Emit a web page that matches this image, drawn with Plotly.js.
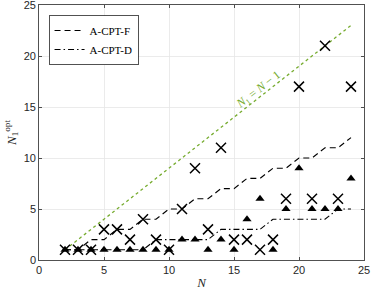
<!DOCTYPE html>
<html>
<head>
<meta charset="utf-8">
<script src="https://cdn.plot.ly/plotly-3.0.1.min.js"></script>
<style>html,body{margin:0;padding:0;background:#fff;}#chart{width:374px;height:294px;}</style>
</head>
<body>
<div id="chart"></div>
<script>
// Data
const N = [2,3,4,5,6,7,8,9,10,11,12,13,14,15,16,17,18,19,20,21,22,23,24];
const crossVals = [1,1,1,3,3,2,4,2,1,5,9,3,11,2,2,1,2,6,17,6,21,6,17];
const triVals   = [1,1,1,1,1,1,1,1,1,2,2,1,2,1,4,6,1,5,9,5,5,5,8];
const cptF = [1,1,2,2,3,3,4,4,5,5,6,6,7,7,8,8,9,9,10,10,11,11,12];
const cptD = [1,1,1,1,1,1,1,2,2,2,2,2,3,3,3,3,4,4,4,4,4,5,5];
const refX = [2,24];
const refY = [1,23];
const xTicks = [0,5,10,15,20,25];
const yTicks = [0,5,10,15,20,25];

const traces = [
  {x: refX, y: refY, mode:'lines', line:{color:'#77AC30', dash:'dot', width:1.3}, showlegend:false, hoverinfo:'skip'},
  {x: N, y: cptF, mode:'lines', name:'A-CPT-F', line:{color:'#000', dash:'6px,4px', width:1.1}},
  {x: N, y: cptD, mode:'lines', name:'A-CPT-D', line:{color:'#000', dash:'6px,3px,1.5px,3px', width:1.1}},
  {x: N, y: crossVals, mode:'markers', showlegend:false, marker:{symbol:'x-thin-open', size:10, color:'#000', line:{width:1.5, color:'#000'}}},
  {x: N, y: triVals, mode:'markers', showlegend:false, marker:{symbol:'triangle-up', size:8, color:'#000'}}
];

const axisCommon = {
  showline:true, mirror:'ticks', linecolor:'#262626', linewidth:0.8,
  ticks:'inside', ticklen:3, tickcolor:'#262626', tickwidth:0.8,
  showgrid:true, gridcolor:'#e6e6e6', gridwidth:0.8, zeroline:false,
  ticklabeloverflow:'allow',
  tickfont:{family:'Liberation Sans, Arial, sans-serif', size:11, color:'#262626'}
};

const layout = {
  width:374, height:294,
  margin:{l:39, r:10, t:5, b:34},
  paper_bgcolor:'#fff', plot_bgcolor:'#fff',
  showlegend:true,
  legend:{x:0.03, y:0.96, xanchor:'left', yanchor:'top', bgcolor:'#fff', bordercolor:'#262626', borderwidth:0.8,
    font:{family:'Liberation Serif, Times New Roman, serif', size:11, color:'#000'}, tracegroupgap:0, itemwidth:30},
  xaxis: Object.assign({}, axisCommon, {range:[0,25], tickvals:xTicks, ticktext:xTicks.map(String),
    title:{text:'<i>N</i>', standoff:2, font:{family:'Liberation Serif, Times New Roman, serif', size:13, color:'#262626'}}}),
  yaxis: Object.assign({}, axisCommon, {range:[0,25], tickvals:yTicks, ticktext:yTicks.map(String),
    title:{text:'<i>N</i><sub>1</sub><sup>opt</sup>', standoff:4, font:{family:'Liberation Serif, Times New Roman, serif', size:13, color:'#262626'}}}),
  annotations:[
    {x:16.9, y:16.7, xref:'x', yref:'y', text:'<i>N</i><sub>1</sub> = <i>N</i> − 1', showarrow:false, textangle:-38,
     font:{family:'Liberation Serif, Times New Roman, serif', size:12, color:'#77AC30'}}
  ]
};

Plotly.newPlot('chart', traces, layout, {displayModeBar:false, staticPlot:true});
</script>
</body>
</html>
